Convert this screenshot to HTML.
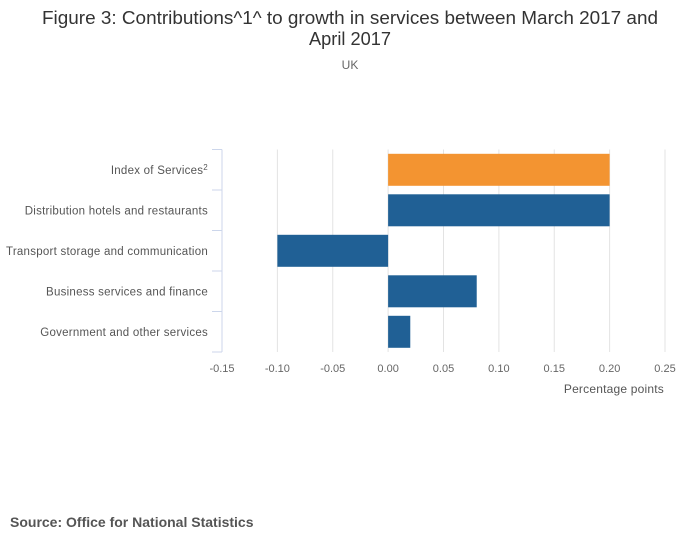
<!DOCTYPE html>
<html><head><meta charset="utf-8"><style>
body{margin:0;background:#fff;font-family:"Liberation Sans",sans-serif;}
</style></head><body>
<svg width="700" height="549" xmlns="http://www.w3.org/2000/svg" font-family="Liberation Sans, sans-serif">
<text x="350" y="24" text-anchor="middle" font-size="18" fill="#333" textLength="616" lengthAdjust="spacingAndGlyphs">Figure 3: Contributions^1^ to growth in services between March 2017 and</text>
<text x="350" y="45" text-anchor="middle" font-size="18" fill="#333" textLength="82" lengthAdjust="spacingAndGlyphs">April 2017</text>
<text x="350" y="69" text-anchor="middle" font-size="12" fill="#666">UK</text>
<g id="grid"></g><g id="bars"></g><g id="axes"></g>
<text x="664" y="393" text-anchor="end" font-size="12" fill="#555" letter-spacing="0.2">Percentage points</text>
<text x="10" y="527" font-size="14" font-weight="bold" fill="#555">Source: Office for National Statistics</text>
</svg>
<script>
const categories=["Index of Services","Distribution hotels and restaurants","Transport storage and communication","Business services and finance","Government and other services"];
const values=[0.20,0.20,-0.10,0.08,0.02];
const colors=["#f39431","#206095","#206095","#206095","#206095"];
const ticks=[-0.15,-0.10,-0.05,0.00,0.05,0.10,0.15,0.20,0.25];
const NS="http://www.w3.org/2000/svg";
const x0=222,x1=665,vmin=-0.15,vmax=0.25,yTop=149.5,band=40.5;
const xs=v=>x0+(v-vmin)/(vmax-vmin)*(x1-x0);
function mk(t,a,p){const e=document.createElementNS(NS,t);for(const k in a)e.setAttribute(k,a[k]);p.appendChild(e);return e;}
const g=document.getElementById('grid'),b=document.getElementById('bars'),ax=document.getElementById('axes');
ticks.forEach(t=>{
 if(Math.abs(t-vmin)>1e-9){const l=mk('line',{x1:xs(t),x2:xs(t),y1:yTop,y2:yTop+band*5,stroke:'#e3e3e3','stroke-width':1},g);
 
 }
 const tx=mk('text',{x:xs(t),y:372,'text-anchor':'middle','font-size':11,fill:'#666'},ax);
 tx.textContent=t.toFixed(2);
 
 
});
const al=mk('line',{x1:x0,x2:x0,y1:yTop,y2:yTop+band*5,stroke:'#ccd6eb','stroke-width':1},ax);


for(let i=0;i<=5;i++){const tk=mk('line',{x1:x0-10,x2:x0,y1:yTop+band*i,y2:yTop+band*i,stroke:'#ccd6eb','stroke-width':1},ax);
 
 }
categories.forEach((c,i)=>{
 const v=values[i],y=yTop+band*i+4.3;
 const r=mk('rect',{x:Math.min(xs(0),xs(v)),y:y,width:Math.abs(xs(v)-xs(0)),height:32,fill:colors[i]},b);
 
 
 const t=mk('text',{x:208,y:yTop+band*i+band/2+4,'text-anchor':'end','font-size':11.5,'letter-spacing':0.25,fill:'#555'},ax);
 t.textContent=c;
 if(i===0){const s=mk('tspan',{dy:-4,'font-size':8},t);s.textContent='2';}
 
 
});
</script>
</body></html>
